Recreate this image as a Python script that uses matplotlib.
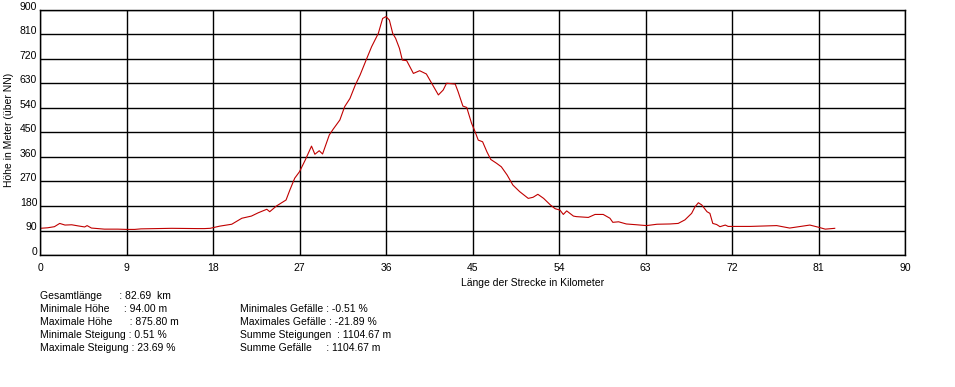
import matplotlib.pyplot as plt

plt.rcParams['font.family'] = ['Liberation Sans', 'DejaVu Sans']

# Höhenprofil (km, m)
strecke_km = [0.0, 0.8, 1.5, 2.05, 2.6, 3.3, 3.95, 4.65, 4.9, 5.35, 6.7, 8.1, 9.0, 9.85,
              10.5, 13.7, 16.4, 17.1, 17.7, 18.7, 19.95, 21.0, 22.0, 22.7, 23.6, 23.9,
              24.6, 25.6, 26.0, 26.5, 27.0, 27.6, 28.25, 28.6, 29.05, 29.4, 30.1, 30.5,
              31.2, 31.7, 32.25, 32.8, 33.3, 34.0, 34.5, 35.2, 35.65, 36.0, 36.35, 36.7,
              37.0, 37.4, 37.7, 38.15, 38.85, 39.5, 40.2, 40.75, 41.45, 41.95, 42.3,
              43.2, 43.5, 44.0, 44.4, 44.9, 45.2, 45.6, 46.05, 46.5, 46.9, 47.5, 48.0,
              48.6, 49.2, 49.9, 50.8, 51.3, 51.8, 52.4, 53.1, 53.6, 54.1, 54.45, 54.8,
              55.5, 55.8, 57.05, 57.75, 58.6, 59.3, 59.6, 60.2, 61.0, 62.1, 63.1, 64.2,
              65.55, 66.4, 67.1, 67.8, 68.15, 68.5, 68.85, 69.4, 69.7, 70.0, 70.4,
              70.75, 71.3, 71.6, 73.9, 76.65, 78.0, 80.1, 81.0, 81.7, 82.69]
hoehe_m = [98, 100, 104, 116, 110, 111, 107, 103, 108, 99, 95, 95, 94, 94,
           96, 98, 97, 97, 98, 106, 113, 135, 143, 155, 168, 159,
           180, 202, 239, 282, 306, 349, 400, 370, 383, 371, 441, 462,
           496, 545, 575, 624, 661, 722, 765, 814, 869, 875.8, 863, 814,
           796, 759, 716, 714, 667, 677, 665, 631, 588, 606, 631,
           628, 600, 547, 542, 484, 459, 422, 416, 379, 351, 337, 324,
           294, 257, 233, 208, 212, 223, 208, 184, 170, 165, 149, 162,
           143, 141, 138, 149, 149, 135, 120, 122, 114, 111, 108, 113,
           114, 116, 129, 153, 177, 192, 184, 159, 153, 116, 112,
           104, 110, 105, 105, 108, 99, 110, 102, 95, 98]

x_ticks = list(range(0, 91, 9))
y_ticks = list(range(0, 901, 90))

stats_links = ["Gesamtlänge      : 82.69  km",
               "Minimale Höhe     : 94.00 m",
               "Maximale Höhe      : 875.80 m",
               "Minimale Steigung : 0.51 %",
               "Maximale Steigung : 23.69 %"]
stats_rechts = ["Minimales Gefälle : -0.51 %",
                "Maximales Gefälle : -21.89 %",
                "Summe Steigungen  : 1104.67 m",
                "Summe Gefälle     : 1104.67 m"]

W, H = 955, 387
fig = plt.figure(figsize=(W / 100, H / 100), dpi=100)
ax = fig.add_axes([40 / W, (H - 255) / H, 865 / W, 245 / H])

ax.plot(strecke_km, hoehe_m, color='#c00000', lw=0.8)
ax.set_xlim(0, 90)
ax.set_ylim(0, 900)
ax.set_xticks(x_ticks)
ax.set_yticks(y_ticks)
ax.grid(True, color='black', lw=1.0)
for s in ax.spines.values():
    s.set_color('black')
    s.set_linewidth(1.0)
ax.tick_params(length=0, labelsize=7.5, colors='black')
ax.tick_params(axis='x', pad=6)
ax.tick_params(axis='y', pad=2)
for lbl in ax.get_yticklabels():
    lbl.set_va('baseline')

fig.text(533 / W, 1 - 283 / H, "Länge der Strecke in Kilometer", fontsize=7.5,
         ha='center', va='center')
fig.text(9 / W, 1 - 130 / H, "Höhe in Meter (über NN)", fontsize=7.5,
         rotation=90, ha='center', va='center')

for i, t in enumerate(stats_links):
    fig.text(40 / W, 1 - (296 + 13 * i) / H, t, fontsize=7.5, va='center')
for i, t in enumerate(stats_rechts):
    fig.text(240 / W, 1 - (309 + 13 * i) / H, t, fontsize=7.5, va='center')

fig.savefig("out.png", dpi=100)
